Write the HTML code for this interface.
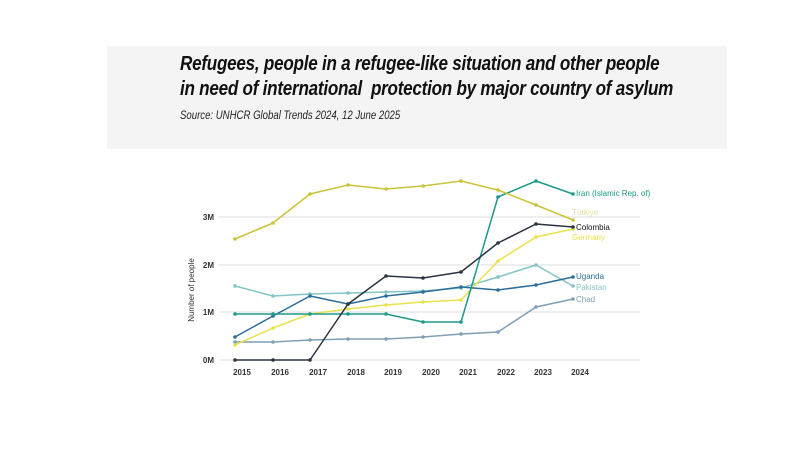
<!DOCTYPE html>
<html><head><meta charset="utf-8"><style>
html,body{margin:0;padding:0;background:#fff;width:800px;height:450px;overflow:hidden}
.hdr{position:absolute;left:107px;top:46px;width:620px;height:103px;background:#f4f4f4}
.t{position:absolute;left:180px;font-family:"Liberation Sans",sans-serif;font-weight:bold;font-style:italic;font-size:20px;color:#111;white-space:nowrap;transform-origin:0 0;transform:scaleX(0.855);letter-spacing:-0.3px}
.s{position:absolute;left:180px;top:108px;font-family:"Liberation Sans",sans-serif;font-style:italic;font-size:12px;color:#222;white-space:nowrap;transform-origin:0 0;transform:scaleX(0.8)}
svg{position:absolute;left:0;top:0}
</style></head><body>
<div class="hdr"></div>
<div class="t" style="top:53px">Refugees, people in a refugee-like situation and other people</div>
<div class="t" style="top:78px">in need of international&nbsp; protection by major country of asylum</div>
<div class="s">Source: UNHCR Global Trends 2024, 12 June 2025</div>
<svg width="800" height="450" font-family="Liberation Sans, sans-serif">
<g stroke="#dcdcdc" stroke-width="1">
<line x1="219" y1="217" x2="640" y2="217"/><line x1="219" y1="265" x2="640" y2="265"/>
<line x1="219" y1="312" x2="640" y2="312"/><line x1="219" y1="360" x2="640" y2="360"/>
</g>
<g font-size="8" fill="#333" font-weight="bold" text-anchor="end">
<text x="214" y="220">3M</text><text x="214" y="268">2M</text><text x="214" y="315">1M</text><text x="214" y="363">0M</text>
</g>
<text transform="translate(194,290) rotate(-90)" font-size="8" fill="#333" text-anchor="middle">Number of people</text>
<g font-size="8" fill="#333" font-weight="bold" text-anchor="middle">
<text x="242" y="375">2015</text><text x="280" y="375">2016</text><text x="318" y="375">2017</text><text x="356" y="375">2018</text><text x="393" y="375">2019</text><text x="431" y="375">2020</text><text x="468" y="375">2021</text><text x="506" y="375">2022</text><text x="543" y="375">2023</text><text x="580" y="375">2024</text>
</g>
<g fill="none" stroke-width="1.5" stroke-linejoin="round">
<polyline stroke="#7f9fb5" marker-mid="url(#m1)" marker-start="url(#m1)" marker-end="url(#m1)" points="235,342 273,342 310,340 348,339 386,339 423,337 461,334 498,332 536,307 573,299"/>
<polyline stroke="#84c4c4" marker-mid="url(#m2)" marker-start="url(#m2)" marker-end="url(#m2)" points="235,286 273,296 310,294 348,293 386,292 423,291 461,288 498,277 536,265 573,286"/>
<polyline stroke="#e9e24a" marker-mid="url(#m3)" marker-start="url(#m3)" marker-end="url(#m3)" points="235,345 273,328 310,314 348,309 386,305 423,302 461,300 498,261 536,237 573,229"/>
<polyline stroke="#2d6d9a" marker-mid="url(#m4)" marker-start="url(#m4)" marker-end="url(#m4)" points="235,337 273,316 310,296 348,304 386,296 423,292 461,287 498,290 536,285 573,277"/>
<polyline stroke="#1e9a8a" marker-mid="url(#m5)" marker-start="url(#m5)" marker-end="url(#m5)" points="235,314 273,314 310,314 348,314 386,314 423,322 461,322 498,197 536,181 573,194"/>
<polyline stroke="#2b3440" marker-mid="url(#m6)" marker-start="url(#m6)" marker-end="url(#m6)" points="235,360 273,360 310,360 348,304 386,276 423,278 461,272 498,243 536,224 573,227"/>
<polyline stroke="#c9c43a" marker-mid="url(#m7)" marker-start="url(#m7)" marker-end="url(#m7)" points="235,239 273,223 310,194 348,185 386,189 423,186 461,181 498,190 536,205 573,220"/>
</g>
<defs>
<marker id="m1" markerWidth="4" markerHeight="4" refX="2" refY="2" markerUnits="userSpaceOnUse"><circle cx="2" cy="2" r="1.8" fill="#7f9fb5"/></marker>
<marker id="m2" markerWidth="4" markerHeight="4" refX="2" refY="2" markerUnits="userSpaceOnUse"><circle cx="2" cy="2" r="1.8" fill="#84c4c4"/></marker>
<marker id="m3" markerWidth="4" markerHeight="4" refX="2" refY="2" markerUnits="userSpaceOnUse"><circle cx="2" cy="2" r="1.8" fill="#e9e24a"/></marker>
<marker id="m4" markerWidth="4" markerHeight="4" refX="2" refY="2" markerUnits="userSpaceOnUse"><circle cx="2" cy="2" r="1.8" fill="#2d6d9a"/></marker>
<marker id="m5" markerWidth="4" markerHeight="4" refX="2" refY="2" markerUnits="userSpaceOnUse"><circle cx="2" cy="2" r="1.8" fill="#1e9a8a"/></marker>
<marker id="m6" markerWidth="4" markerHeight="4" refX="2" refY="2" markerUnits="userSpaceOnUse"><circle cx="2" cy="2" r="1.8" fill="#2b3440"/></marker>
<marker id="m7" markerWidth="4" markerHeight="4" refX="2" refY="2" markerUnits="userSpaceOnUse"><circle cx="2" cy="2" r="1.8" fill="#c9c43a"/></marker>
</defs>
<g font-size="8">
<text x="576" y="196" fill="#1e9a8a">Iran (Islamic Rep. of)</text>
<text x="572" y="215" fill="#e6e0a0">Türkiye</text>
<text x="576" y="230" fill="#111">Colombia</text>
<text x="572" y="240" fill="#e9e24a">Germany</text>
<text x="576" y="279" fill="#2d6d9a">Uganda</text>
<text x="576" y="290" fill="#84c4c4">Pakistan</text>
<text x="576" y="302" fill="#7f9fb5">Chad</text>
</g>
</svg>
</body></html>
